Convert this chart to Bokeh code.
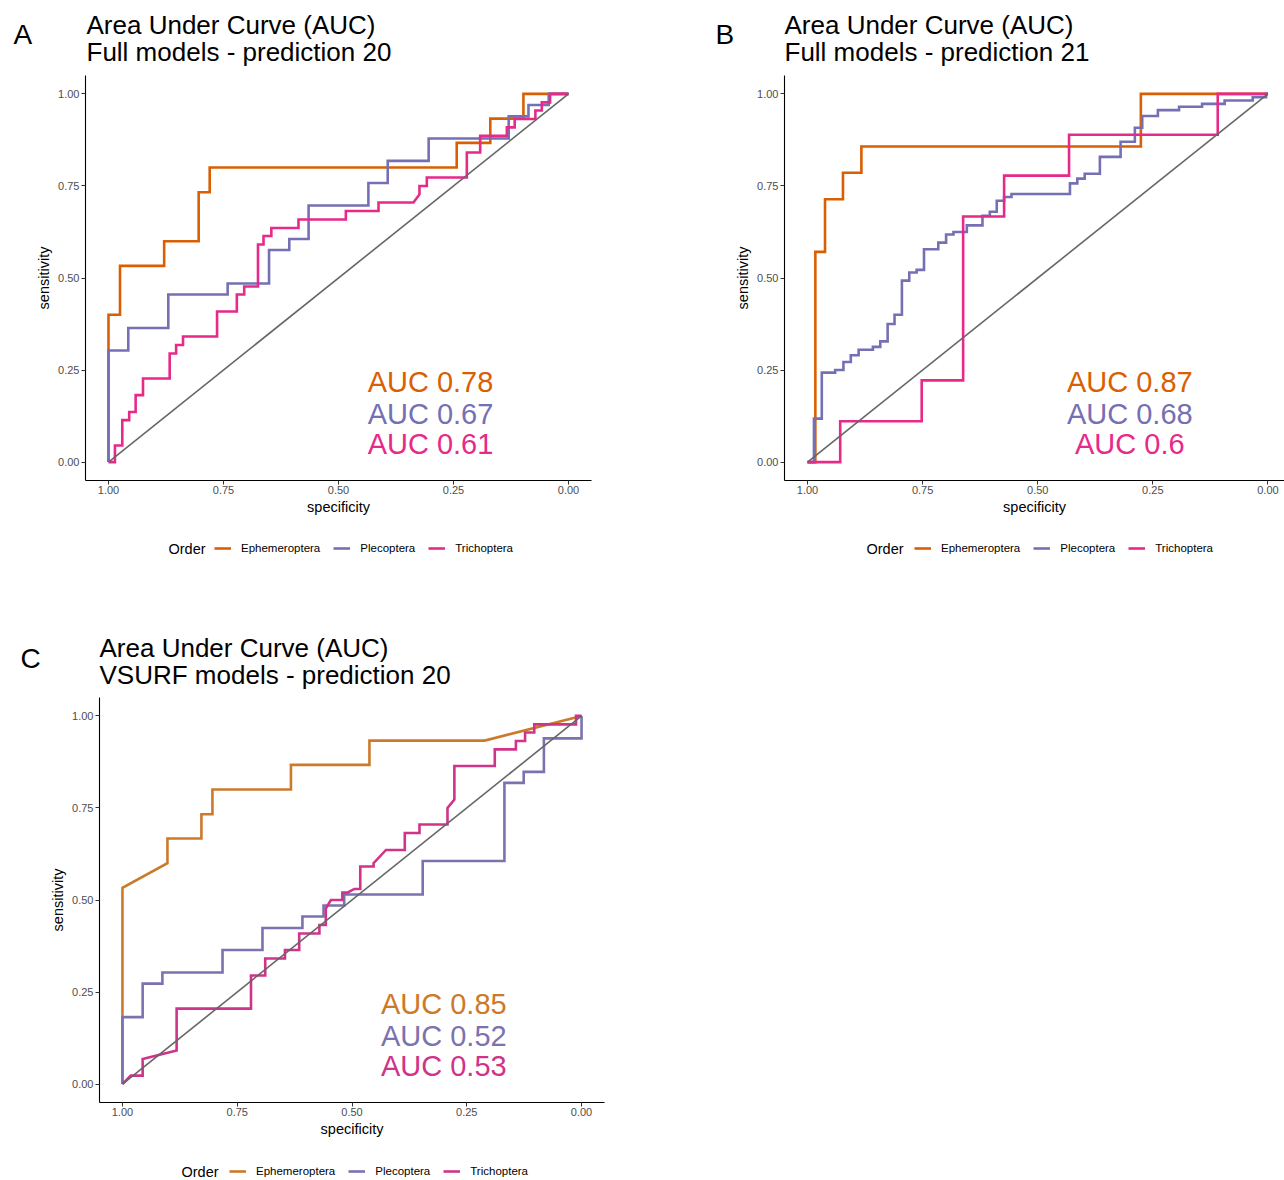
from bokeh.plotting import figure
from bokeh.models import Range1d, FixedTicker, PrintfTickFormatter, Legend, LegendItem, ColumnDataSource
from bokeh.layouts import column, row
from bokeh.embed import file_html
from bokeh.resources import INLINE
from bokeh.core.properties import value

FONT = "Liberation Sans"

orders = ["Ephemeroptera", "Plecoptera", "Trichoptera"]
tick_values = [0.0, 0.25, 0.5, 0.75, 1.0]
chance_spec = [1.0, 0.0]
chance_sens = [0.0, 1.0]

# ---------------- Panel A : Full models - prediction 20 ----------------
a_eph_spec = [1, 1, 0.975, 0.975, 0.879, 0.879, 0.804, 0.804, 0.78, 0.78, 0.243, 0.243, 0.17, 0.17, 0.098, 0.098, 0]
a_eph_sens = [0, 0.4, 0.4, 0.533, 0.533, 0.6, 0.6, 0.733, 0.733, 0.8, 0.8, 0.867, 0.867, 0.933, 0.933, 1, 1]
a_ple_spec = [1, 1, 0.957, 0.957, 0.87, 0.87, 0.741, 0.741, 0.651, 0.651, 0.607, 0.607, 0.565, 0.565,
              0.435, 0.435, 0.393, 0.393, 0.304, 0.304, 0.13, 0.13, 0.087, 0.087, 0.043, 0.043, 0]
a_ple_sens = [0, 0.303, 0.303, 0.364, 0.364, 0.455, 0.455, 0.485, 0.485, 0.576, 0.576, 0.606, 0.606, 0.697,
              0.697, 0.758, 0.758, 0.818, 0.818, 0.879, 0.879, 0.939, 0.939, 0.97, 0.97, 1, 1]
a_tri_spec = [1, 0.986, 0.986, 0.97, 0.97, 0.955, 0.955, 0.941, 0.941, 0.925, 0.925, 0.867, 0.867, 0.853, 0.853,
              0.838, 0.838, 0.764, 0.764, 0.721, 0.721, 0.705, 0.705, 0.675, 0.675, 0.663, 0.663, 0.646, 0.646,
              0.587, 0.587, 0.484, 0.484, 0.413, 0.413, 0.337, 0.324, 0.324, 0.308, 0.308, 0.221, 0.221, 0.192,
              0.192, 0.134, 0.134, 0.117, 0.117, 0.072, 0.072, 0.058, 0.058, 0.04, 0.04, 0]
a_tri_sens = [0, 0, 0.045, 0.045, 0.114, 0.114, 0.136, 0.136, 0.182, 0.182, 0.227, 0.227, 0.295, 0.295, 0.318,
              0.318, 0.341, 0.341, 0.409, 0.409, 0.455, 0.455, 0.477, 0.477, 0.591, 0.591, 0.614, 0.614, 0.636,
              0.636, 0.659, 0.659, 0.682, 0.682, 0.705, 0.705, 0.727, 0.75, 0.75, 0.773, 0.773, 0.841, 0.841,
              0.886, 0.886, 0.909, 0.909, 0.932, 0.932, 0.955, 0.955, 0.977, 0.977, 1, 1]
a_auc = [0.78, 0.67, 0.61]

# ---------------- Panel B : Full models - prediction 21 ----------------
b_eph_spec = [1, 0.983, 0.983, 0.962, 0.962, 0.923, 0.923, 0.883, 0.883, 0.276, 0.276, 0]
b_eph_sens = [0, 0, 0.571, 0.571, 0.714, 0.714, 0.786, 0.786, 0.857, 0.857, 1, 1]
b_ple_spec = [1, 0.986, 0.986, 0.969, 0.969, 0.94, 0.94, 0.922, 0.922, 0.906, 0.906, 0.889, 0.889, 0.858, 0.858,
              0.842, 0.842, 0.826, 0.826, 0.811, 0.811, 0.795, 0.795, 0.779, 0.779, 0.763, 0.763, 0.747, 0.747,
              0.716, 0.716, 0.699, 0.699, 0.683, 0.683, 0.654, 0.654, 0.62, 0.62, 0.604, 0.604, 0.589, 0.589,
              0.573, 0.573, 0.557, 0.557, 0.43, 0.43, 0.414, 0.414, 0.398, 0.398, 0.365, 0.365, 0.32, 0.32,
              0.289, 0.289, 0.273, 0.273, 0.239, 0.239, 0.193, 0.193, 0.143, 0.143, 0.094, 0.094, 0.033, 0.033,
              0.004, 0.004, 0]
b_ple_sens = [0, 0, 0.118, 0.118, 0.243, 0.243, 0.25, 0.25, 0.272, 0.272, 0.29, 0.29, 0.305, 0.305, 0.313,
              0.313, 0.328, 0.328, 0.375, 0.375, 0.4, 0.4, 0.493, 0.493, 0.515, 0.515, 0.522, 0.522, 0.578,
              0.578, 0.596, 0.596, 0.618, 0.618, 0.625, 0.625, 0.643, 0.643, 0.669, 0.669, 0.68, 0.68, 0.71,
              0.71, 0.72, 0.72, 0.728, 0.728, 0.757, 0.757, 0.77, 0.77, 0.783, 0.783, 0.829, 0.829, 0.87,
              0.87, 0.908, 0.908, 0.94, 0.94, 0.956, 0.956, 0.965, 0.965, 0.973, 0.973, 0.982, 0.982, 0.991,
              0.991, 1, 1]
b_tri_spec = [1, 0.929, 0.929, 0.752, 0.752, 0.662, 0.662, 0.573, 0.573, 0.432, 0.432, 0.109, 0.109, 0]
b_tri_sens = [0, 0, 0.111, 0.111, 0.222, 0.222, 0.667, 0.667, 0.778, 0.778, 0.889, 0.889, 1, 1]
b_auc = [0.87, 0.68, 0.6]

# ---------------- Panel C : VSURF models - prediction 20 ----------------
c_eph_spec = [1, 1, 0.902, 0.902, 0.828, 0.828, 0.804, 0.804, 0.633, 0.633, 0.462, 0.462, 0.211, 0]
c_eph_sens = [0, 0.533, 0.6, 0.667, 0.667, 0.733, 0.733, 0.8, 0.8, 0.867, 0.867, 0.933, 0.933, 1]
c_ple_spec = [1, 1, 0.956, 0.956, 0.913, 0.913, 0.782, 0.782, 0.695, 0.695, 0.608, 0.608, 0.562, 0.562,
              0.517, 0.517, 0.346, 0.346, 0.168, 0.168, 0.126, 0.126, 0.082, 0.082, 0, 0]
c_ple_sens = [0, 0.182, 0.182, 0.273, 0.273, 0.303, 0.303, 0.364, 0.364, 0.424, 0.424, 0.455, 0.455, 0.485,
              0.485, 0.515, 0.515, 0.606, 0.606, 0.818, 0.818, 0.848, 0.848, 0.939, 0.939, 1]
c_tri_spec = [1, 0.982, 0.956, 0.956, 0.882, 0.882, 0.72, 0.72, 0.689, 0.689, 0.646, 0.646, 0.615, 0.615,
              0.571, 0.571, 0.557, 0.557, 0.546, 0.521, 0.521, 0.51, 0.495, 0.482, 0.482, 0.453, 0.453, 0.426,
              0.385, 0.385, 0.353, 0.353, 0.292, 0.292, 0.277, 0.277, 0.189, 0.189, 0.143, 0.143, 0.123, 0.123,
              0.103, 0.103, 0.012, 0.012, 0]
c_tri_sens = [0, 0.023, 0.023, 0.068, 0.091, 0.205, 0.205, 0.295, 0.295, 0.341, 0.341, 0.364, 0.364, 0.409,
              0.409, 0.432, 0.432, 0.477, 0.5, 0.5, 0.52, 0.52, 0.53, 0.53, 0.591, 0.591, 0.6, 0.636,
              0.636, 0.682, 0.682, 0.705, 0.705, 0.75, 0.773, 0.864, 0.864, 0.909, 0.909, 0.932, 0.932, 0.955,
              0.955, 0.977, 0.977, 1, 1]
c_auc = [0.85, 0.52, 0.53]

colors_ab = ["#D95F02", "#7570B3", "#E7298A"]
colors_c = ["#CC7A2A", "#7B72B0", "#D0338A"]

panel_title = "Area Under Curve (AUC)"
NAN = float("nan")


def no_align(p):
    try:
        p.frame_align = False
    except AttributeError:
        pass


def blank(width, height, x0, y0):
    """A figure without axes whose data coordinates are page pixels (y downwards)."""
    p = figure(width=width, height=height, output_backend="svg", toolbar_location=None, title=None,
               x_range=Range1d(x0, x0 + width), y_range=Range1d(y0 + height, y0),
               x_axis_type=None, y_axis_type=None, min_border=0)
    p.outline_line_color = None
    p.grid.visible = False
    p.background_fill_color = "white"
    p.border_fill_color = "white"
    no_align(p)
    return p


def header_text(p, letter, letter_x, letter_y, subtitle, title_x, title_y):
    p.text(x=[letter_x], y=[letter_y], text=[letter], text_font=value(FONT), text_font_size="28px",
           text_color="black", text_align="left", text_baseline="middle")
    p.text(x=[title_x, title_x], y=[title_y, title_y + 27.4], text=[panel_title, subtitle],
           text_font=value(FONT), text_font_size="26px", text_color="black",
           text_align="left", text_baseline="middle")


def legend_in(p, colors, order_x, key_x, mid_y, fig_bottom):
    p.text(x=[order_x], y=[mid_y], text=["Order"], text_font=value(FONT), text_font_size="14.5px",
           text_color="black", text_align="left", text_baseline="middle")
    rs = [p.line(x=[NAN, NAN], y=[NAN, NAN], line_color=c, line_width=2.6) for c in colors]
    leg = Legend(items=[LegendItem(label=n, renderers=[r]) for n, r in zip(orders, rs)],
                 orientation="horizontal", location=(key_x, fig_bottom - (mid_y + 7)))
    leg.label_text_font = FONT
    leg.label_text_font_size = "11.5px"
    leg.label_text_color = "black"
    leg.glyph_width = 17
    leg.glyph_height = 14
    leg.label_standoff = 10
    leg.spacing = 13
    leg.padding = 0
    leg.margin = 0
    leg.border_line_color = None
    leg.background_fill_alpha = 0
    p.add_layout(leg, "center")


def make_main(curves, aucs, colors, width, b_left, b_right, x_end):
    p = figure(width=width, height=455, output_backend="svg", toolbar_location=None, title=None,
               x_range=Range1d(1.05, x_end), y_range=Range1d(-0.05, 1.05),
               min_border_left=b_left, min_border_right=b_right,
               min_border_top=5, min_border_bottom=45)
    p.outline_line_color = None
    p.grid.visible = False
    p.background_fill_color = "white"
    p.border_fill_color = "white"
    no_align(p)

    for ax in (p.xaxis[0], p.yaxis[0]):
        ax.ticker = FixedTicker(ticks=tick_values)
        ax.formatter = PrintfTickFormatter(format="%.2f")
        ax.major_tick_out = 4
        ax.major_tick_in = 0
        ax.minor_tick_line_color = None
        ax.axis_line_color = "black"
        ax.axis_line_width = 1.1
        ax.major_tick_line_color = "#333333"
        ax.major_tick_line_width = 1
        ax.major_label_text_font = FONT
        ax.major_label_text_font_size = "11px"
        ax.major_label_text_color = "#4D4D4D"
        ax.axis_label_text_font = FONT
        ax.axis_label_text_font_size = "14.5px"
        ax.axis_label_text_font_style = "normal"
        ax.axis_label_text_color = "black"
    p.xaxis.major_label_standoff = 1
    p.xaxis.axis_label_standoff = 2
    p.yaxis.major_label_standoff = 2
    p.yaxis.axis_label_standoff = 3
    p.xaxis.axis_label = "specificity"
    p.yaxis.axis_label = "sensitivity"

    for (spec, sens), col in zip(curves, colors):
        p.line(spec, sens, line_color=col, line_width=2.6, line_join="miter")
    p.line(chance_spec, chance_sens, line_color="#666666", line_width=1.6)

    src = ColumnDataSource(dict(x=[0.30, 0.30, 0.30], y=[0.218, 0.13, 0.048],
                                t=["AUC %g" % a for a in aucs], c=colors))
    p.text(x="x", y="y", text="t", text_color="c", source=src, text_font=value(FONT),
           text_font_size="29px", text_align="center", text_baseline="middle")
    return p


# ---- row 1 : panels A and B  (page pixels, origin at the top-left corner) ----
head1 = blank(1284, 70, 0, 0)
header_text(head1, "A", 13, 34, "Full models - prediction 20", 86, 24.2)
header_text(head1, "B", 715, 34, "Full models - prediction 21", 784, 24.2)

pA = make_main([(a_eph_spec, a_eph_sens), (a_ple_spec, a_ple_sens), (a_tri_spec, a_tri_sens)],
               a_auc, colors_ab, 700, 85, 109, -0.05)
pB = make_main([(b_eph_spec, b_eph_sens), (b_ple_spec, b_ple_sens), (b_tri_spec, b_tri_sens)],
               b_auc, colors_ab, 584, 84, 0, -0.036)

foot1 = blank(1284, 89, 0, 525)
legend_in(foot1, colors_ab, 168, 214, 548, 614)
legend_in(foot1, colors_ab, 866, 914, 548, 614)

# ---- row 2 : panel C ----
head2 = blank(700, 78, 0, 614)
header_text(head2, "C", 20, 657.5, "VSURF models - prediction 20", 99, 647)

pC = make_main([(c_eph_spec, c_eph_sens), (c_ple_spec, c_ple_sens), (c_tri_spec, c_tri_sens)],
               c_auc, colors_c, 700, 99, 96, -0.05)

foot2 = blank(700, 33, 0, 1147)
legend_in(foot2, colors_c, 181, 229, 1171, 1180)

layout = column(head1, row(pA, pB), foot1, head2, pC, foot2)
open("out.html", "w").write(file_html(layout, INLINE))
